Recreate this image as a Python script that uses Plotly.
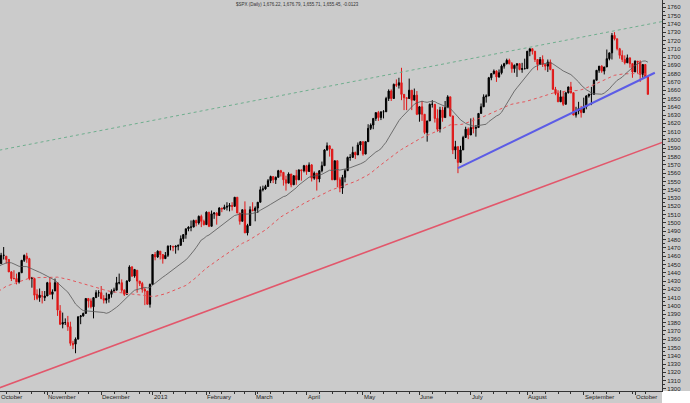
import numpy as np
import pandas as pd
import plotly.graph_objects as go

# ---- closes before the visible window (Jul 18 - Sep 28, 2012), used for the moving averages
hist_close = [1373, 1377, 1363, 1351, 1338, 1338, 1360, 1386, 1385, 1379,
              1375, 1365, 1391, 1394, 1401, 1402, 1403, 1406, 1404, 1404, 1406, 1416, 1418, 1418,
              1413, 1413, 1402, 1411, 1410, 1409, 1410, 1399, 1407,
              1405, 1403, 1432, 1438, 1429, 1434, 1437, 1460, 1466, 1461, 1459, 1461, 1460,
              1460, 1457, 1442, 1433, 1447, 1441]

# ---- daily OHLC, Oct 1 2012 - Oct 8 2013
open_ = [
    1441, 1444, 1446, 1451, 1461, 1460, 1456, 1441, 1433, 1433, 1429, 1440, 1455, 1460, 1457, 1433, 1433, 1414, 1410, 1412, 1410,
    1412, 1428, 1414, 1418, 1428, 1394, 1378, 1380, 1380, 1375, 1355, 1354, 1360, 1387, 1388, 1391, 1409, 1406, 1399, 1410, 1416,
    1416, 1409, 1407, 1409, 1414, 1418, 1419, 1428, 1428, 1419, 1414, 1430, 1447, 1436, 1443, 1430, 1427, 1420, 1418, 1402,
    1426, 1462, 1459, 1466, 1462, 1457, 1461, 1472, 1472, 1471, 1472, 1473, 1481, 1486, 1493, 1495, 1495, 1503, 1500, 1508, 1502,
    1498, 1513, 1496, 1511, 1512, 1509, 1518, 1517, 1519, 1520, 1521, 1520, 1531, 1512, 1502, 1516, 1488, 1497, 1516,
    1515, 1518, 1525, 1540, 1541, 1544, 1551, 1556, 1552, 1555, 1563, 1561, 1552, 1548, 1559, 1546, 1557, 1552, 1564, 1563,
    1569, 1562, 1570, 1554, 1560, 1553, 1563, 1569, 1588, 1593, 1589, 1552, 1575, 1552, 1542, 1555, 1563, 1579, 1579, 1585, 1582, 1594,
    1598, 1583, 1598, 1614, 1618, 1626, 1633, 1627, 1634, 1634, 1650, 1659, 1650, 1667, 1666, 1669, 1655, 1651, 1650, 1660, 1648, 1654,
    1631, 1640, 1631, 1609, 1623, 1643, 1643, 1626, 1613, 1636, 1627, 1639, 1652, 1629, 1588, 1592, 1573, 1588, 1603, 1613,
    1606, 1615, 1614, 1615, 1632, 1640, 1652, 1653, 1675, 1680, 1683, 1676, 1681, 1689, 1692, 1696, 1692, 1686, 1690, 1692, 1685, 1686,
    1686, 1707, 1710, 1707, 1697, 1691, 1697, 1691, 1689, 1694, 1685, 1661, 1656, 1646, 1652, 1643, 1657, 1664, 1657, 1630, 1635, 1638,
    1633, 1640, 1653, 1655, 1655, 1672, 1684, 1689, 1683, 1688, 1698, 1705, 1726, 1722, 1710, 1702, 1697, 1693, 1699, 1692,
    1682, 1695, 1694, 1679, 1691, 1676,
]
high = [
    1457, 1451, 1454, 1464, 1471, 1460, 1456, 1442, 1443, 1439, 1441, 1455, 1462, 1464, 1458, 1435, 1433, 1420, 1421, 1418, 1418,
    1429, 1434, 1420, 1433, 1428, 1401, 1392, 1385, 1388, 1381, 1358, 1362, 1387, 1389, 1392, 1409, 1409, 1409, 1410, 1419, 1419,
    1424, 1413, 1416, 1414, 1420, 1422, 1435, 1439, 1432, 1420, 1431, 1449, 1448, 1444, 1443, 1430, 1429, 1422, 1418, 1427,
    1462, 1465, 1467, 1466, 1462, 1465, 1473, 1473, 1472, 1473, 1474, 1485, 1486, 1493, 1496, 1503, 1504, 1504, 1509, 1510, 1504,
    1514, 1513, 1515, 1513, 1513, 1519, 1518, 1522, 1525, 1524, 1525, 1531, 1531, 1512, 1516, 1526, 1499, 1520, 1525,
    1520, 1525, 1544, 1545, 1546, 1553, 1557, 1556, 1556, 1564, 1564, 1561, 1557, 1561, 1559, 1557, 1564, 1564, 1564, 1570,
    1570, 1573, 1571, 1562, 1560, 1563, 1574, 1589, 1597, 1593, 1589, 1575, 1575, 1555, 1558, 1565, 1580, 1583, 1592, 1586, 1597, 1598,
    1598, 1598, 1619, 1620, 1626, 1633, 1635, 1634, 1636, 1652, 1661, 1661, 1668, 1673, 1675, 1687, 1655, 1651, 1674, 1660, 1662, 1659,
    1641, 1647, 1631, 1623, 1644, 1648, 1643, 1637, 1640, 1640, 1647, 1654, 1652, 1629, 1599, 1592, 1593, 1605, 1616, 1615,
    1626, 1627, 1618, 1632, 1644, 1655, 1655, 1676, 1680, 1685, 1684, 1685, 1691, 1693, 1698, 1698, 1694, 1691, 1692, 1692, 1693, 1698,
    1707, 1710, 1710, 1707, 1697, 1700, 1702, 1691, 1697, 1697, 1685, 1664, 1660, 1660, 1659, 1657, 1664, 1670, 1657, 1640, 1646, 1641,
    1651, 1654, 1656, 1664, 1673, 1684, 1689, 1690, 1688, 1709, 1705, 1729, 1730, 1722, 1711, 1708, 1702, 1703, 1699, 1692,
    1696, 1695, 1696, 1691, 1691, 1677,
]
low = [
    1438, 1439, 1441, 1451, 1456, 1451, 1441, 1430, 1432, 1426, 1427, 1440, 1453, 1452, 1431, 1422, 1407, 1407, 1405, 1403, 1406,
    1412, 1414, 1408, 1418, 1388, 1377, 1373, 1377, 1370, 1352, 1348, 1343, 1360, 1378, 1387, 1391, 1398, 1397, 1385, 1410, 1411,
    1408, 1403, 1403, 1404, 1410, 1416, 1419, 1426, 1416, 1412, 1414, 1429, 1435, 1434, 1416, 1424, 1416, 1401, 1402, 1398,
    1426, 1455, 1458, 1456, 1451, 1457, 1459, 1467, 1466, 1463, 1467, 1473, 1477, 1481, 1490, 1490, 1495, 1496, 1498, 1495, 1497,
    1498, 1495, 1496, 1505, 1498, 1509, 1513, 1516, 1515, 1514, 1515, 1520, 1512, 1498, 1502, 1488, 1485, 1497, 1514,
    1502, 1512, 1525, 1538, 1540, 1544, 1548, 1548, 1547, 1555, 1556, 1545, 1539, 1548, 1543, 1546, 1546, 1552, 1551, 1561,
    1558, 1562, 1550, 1552, 1539, 1549, 1561, 1569, 1587, 1580, 1552, 1552, 1543, 1537, 1535, 1549, 1563, 1575, 1579, 1577, 1582, 1587,
    1581, 1583, 1598, 1612, 1613, 1623, 1623, 1624, 1626, 1634, 1647, 1647, 1650, 1664, 1662, 1648, 1636, 1636, 1650, 1636, 1648, 1630,
    1622, 1623, 1607, 1598, 1623, 1639, 1621, 1610, 1609, 1622, 1627, 1639, 1628, 1583, 1577, 1560, 1573, 1588, 1603, 1601,
    1606, 1608, 1604, 1615, 1632, 1640, 1645, 1653, 1672, 1679, 1670, 1675, 1679, 1686, 1691, 1691, 1681, 1681, 1676, 1684, 1681, 1685,
    1686, 1701, 1703, 1694, 1684, 1691, 1688, 1684, 1682, 1684, 1661, 1654, 1646, 1646, 1641, 1643, 1656, 1656, 1630, 1627, 1631, 1627,
    1633, 1637, 1651, 1642, 1655, 1672, 1681, 1681, 1679, 1688, 1696, 1697, 1720, 1708, 1698, 1694, 1691, 1693, 1687, 1675,
    1682, 1680, 1670, 1675, 1675, 1655,
]
close = [
    1444, 1446, 1451, 1461, 1461, 1456, 1441, 1433, 1433, 1429, 1440, 1455, 1461, 1457, 1433, 1434, 1413, 1409, 1413, 1412, 1412,
    1428, 1414, 1417, 1428, 1395, 1378, 1380, 1380, 1375, 1355, 1353, 1360, 1387, 1388, 1391, 1409, 1406, 1399, 1410, 1416, 1416,
    1409, 1407, 1409, 1414, 1418, 1419, 1428, 1428, 1419, 1414, 1430, 1447, 1436, 1444, 1430, 1427, 1420, 1418, 1402, 1426,
    1462, 1459, 1466, 1462, 1457, 1461, 1472, 1472, 1471, 1472, 1473, 1481, 1486, 1493, 1495, 1495, 1503, 1500, 1508, 1502, 1498,
    1513, 1496, 1511, 1512, 1509, 1518, 1517, 1519, 1520, 1521, 1520, 1531, 1512, 1502, 1516, 1488, 1497, 1516, 1515,
    1518, 1525, 1540, 1541, 1544, 1551, 1556, 1552, 1555, 1563, 1561, 1552, 1548, 1559, 1546, 1557, 1552, 1564, 1563, 1569,
    1562, 1570, 1554, 1560, 1553, 1563, 1569, 1588, 1593, 1589, 1552, 1575, 1552, 1542, 1555, 1563, 1579, 1579, 1585, 1582, 1594, 1598,
    1583, 1598, 1614, 1618, 1626, 1633, 1627, 1634, 1634, 1650, 1659, 1650, 1667, 1666, 1669, 1655, 1651, 1650, 1660, 1648, 1654, 1631,
    1640, 1631, 1609, 1623, 1643, 1643, 1626, 1613, 1636, 1627, 1639, 1652, 1629, 1588, 1592, 1573, 1588, 1603, 1613, 1606,
    1615, 1614, 1615, 1632, 1640, 1652, 1653, 1675, 1680, 1683, 1676, 1681, 1689, 1692, 1696, 1692, 1686, 1690, 1692, 1685, 1686, 1686,
    1707, 1710, 1707, 1697, 1691, 1697, 1691, 1689, 1694, 1685, 1661, 1656, 1646, 1652, 1643, 1657, 1664, 1657, 1630, 1635, 1638, 1633,
    1640, 1653, 1655, 1655, 1672, 1684, 1689, 1683, 1688, 1698, 1705, 1726, 1722, 1710, 1702, 1697, 1693, 1699, 1692, 1682,
    1695, 1694, 1679, 1691, 1676, 1655,
]

# market holidays inside the window
holidays = ["2012-10-29", "2012-10-30", "2012-11-22", "2012-12-25", "2013-01-01", "2013-01-21",
            "2013-02-18", "2013-03-29", "2013-05-27", "2013-07-04", "2013-09-02"]

# month labels on the time axis (one per month start)
month_labels = ["October", "November", "December", "2013", "February", "March", "April",
                "May", "June", "July", "August", "September", "October"]

# hand-drawn trend lines: (bar index, price) end points
green_line_x = [0, 262]
green_line_y = [1586.3, 1743.6]
blue_line_x = [181, 257.7]
blue_line_y = [1566, 1681]
red_line_x = [0, 262]
red_line_y = [1298.6, 1598.7]

title_text = "$SPX (Daily) 1,676.22, 1,676.79, 1,655.71, 1,655.45, -0.0123"

# ---------------------------------------------------------------------------
dates = pd.bdate_range("2012-10-01", "2013-10-08")
dates = dates[~dates.isin(pd.to_datetime(holidays))]
n = len(close)
assert len(dates) == n == len(open_) == len(high) == len(low), (len(dates), n, len(open_), len(high), len(low))
idx = np.arange(n)

full = pd.Series(hist_close + close, dtype=float)
sma20 = full.rolling(20).mean().to_numpy()[-n:]
sma50 = full.rolling(50).mean().to_numpy()[-n:]

month_start = [0] + [i for i in range(1, n) if dates[i].month != dates[i - 1].month]
week_start = [0] + [i for i in range(1, n) if dates[i].weekday() < dates[i - 1].weekday()]

fig = go.Figure()
fig.add_trace(go.Scatter(x=green_line_x, y=green_line_y, mode="lines",
                         line=dict(color="#6fae8e", width=1, dash="dot"), hoverinfo="skip"))
fig.add_trace(go.Scatter(x=red_line_x, y=red_line_y, mode="lines",
                         line=dict(color="#e2576b", width=1.6), hoverinfo="skip"))
fig.add_trace(go.Scatter(x=blue_line_x, y=blue_line_y, mode="lines",
                         line=dict(color="#5c5ce6", width=2), hoverinfo="skip"))
fig.add_trace(go.Scatter(x=idx, y=sma50, mode="lines",
                         line=dict(color="#e4555a", width=1, dash="dot"), hoverinfo="skip"))
fig.add_trace(go.Scatter(x=idx, y=sma20, mode="lines",
                         line=dict(color="#555555", width=0.8), hoverinfo="skip"))
fig.add_trace(go.Candlestick(
    x=idx, open=open_, high=high, low=low, close=close,
    increasing=dict(line=dict(color="#000000", width=1), fillcolor="#000000"),
    decreasing=dict(line=dict(color="#e01818", width=1), fillcolor="#e01818"),
    whiskerwidth=0, hoverinfo="skip",
))

annotations = [
    dict(text=title_text, xref="paper", yref="paper", x=0.45, y=0.999,
         xanchor="center", yanchor="top", showarrow=False,
         font=dict(size=4.5, color="#333333")),
    dict(text=month_labels[0], xref="paper", yref="paper", x=0, y=0, yshift=-2,
         xanchor="left", yanchor="top", showarrow=False, borderpad=0,
         font=dict(size=6, color="#222222")),
]
for pos, lab in zip(month_start[1:], month_labels[1:]):
    annotations.append(dict(text=lab, xref="x", yref="paper", x=pos, y=0, yshift=-2,
                            xanchor="left", yanchor="top", showarrow=False, borderpad=0,
                            font=dict(size=6, color="#222222")))

fig.update_layout(
    width=690, height=403,
    margin=dict(l=0, r=28, t=0, b=12),
    paper_bgcolor="#cbcbcb", plot_bgcolor="#cbcbcb",
    showlegend=False, hovermode=False,
    font=dict(family="Liberation Sans, Arial, sans-serif", size=6, color="#222222"),
    xaxis=dict(
        range=[2.57, 260.5], rangeslider=dict(visible=False),
        tickvals=month_start[1:], showticklabels=False,
        ticks="outside", ticklen=3, tickcolor="#333333",
        minor=dict(tickvals=week_start, ticks="outside", ticklen=2, tickcolor="#333333"),
        showline=True, linecolor="#333333", linewidth=1,
        showgrid=False, zeroline=False,
    ),
    yaxis=dict(
        side="right", range=[1297.5, 1768.7],
        tick0=0, dtick=10, tickformat="d",
        ticks="outside", ticklen=3, tickcolor="#333333",
        minor=dict(dtick=5, ticks="outside", ticklen=2, tickcolor="#333333"),
        showline=True, linecolor="#333333", linewidth=1,
        showgrid=False, zeroline=False,
        tickfont=dict(size=6, color="#222222"),
    ),
    shapes=[dict(type="rect", xref="paper", yref="paper", x0=1.0, x1=1.1, y0=-0.1, y1=0.0,
                 fillcolor="#ffffff", line=dict(width=0), layer="below")],
    annotations=annotations,
)

fig.write_html("out.html", config={"displayModeBar": False, "staticPlot": True},
               post_script="document.body.style.margin='0px';document.body.style.overflow='hidden';")
